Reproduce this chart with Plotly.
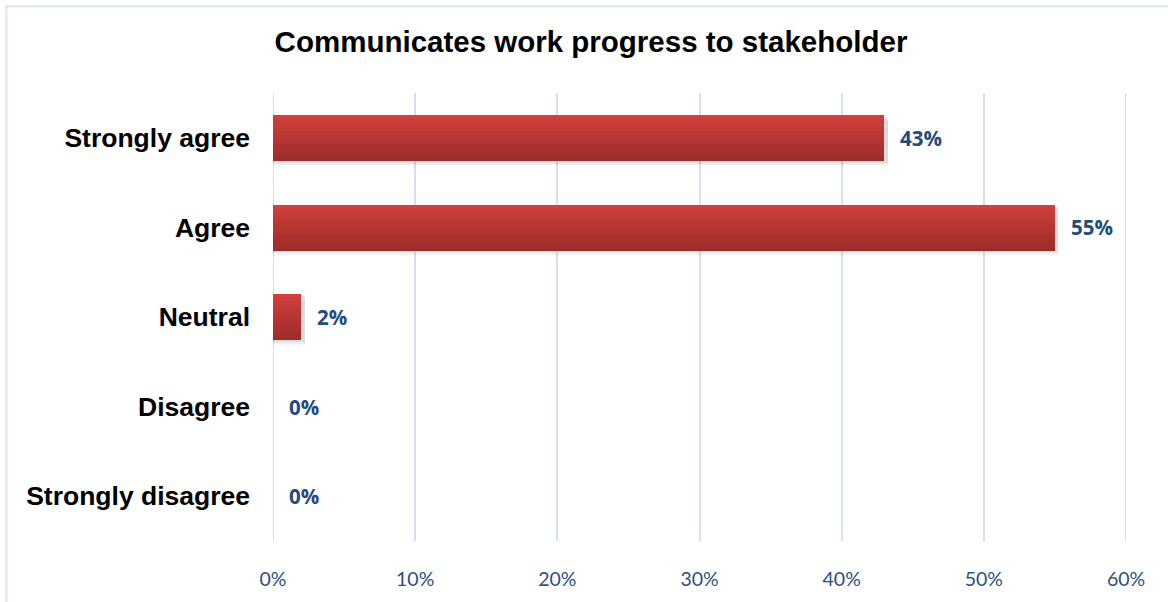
import plotly.graph_objects as go

# Survey responses
categories = ["Strongly agree", "Agree", "Neutral", "Disagree", "Strongly disagree"]
shares = [0.43, 0.55, 0.02, 0.00, 0.00]
value_labels = ["43%", "55%", "2%", "0%", "0%"]
tick_values = [0, 0.1, 0.2, 0.3, 0.4, 0.5, 0.6]
tick_labels = ["0%", "10%", "20%", "30%", "40%", "50%", "60%"]

BAR_WIDTH = 0.51
N_STRIPS = 14
TOP_RGB = (208, 64, 60)
BOTTOM_RGB = (158, 44, 41)
GRID_COLOR = "#d3e1f4"

fig = go.Figure()

# soft drop shadow under each bar
for alpha, off in [(0.10, 0.0), (0.06, 0.02), (0.03, 0.04)]:
    fig.add_trace(go.Bar(
        y=categories, x=[v + 0.0025 if v > 0 else 0 for v in shares], orientation="h",
        width=BAR_WIDTH, offset=-BAR_WIDTH / 2 + 0.025 + off,
        marker=dict(color=f"rgba(60,60,60,{alpha})", line=dict(width=0)),
        hoverinfo="skip", showlegend=False,
    ))

# vertical gradient built from thin stacked strips
dw = BAR_WIDTH / N_STRIPS
for i in range(N_STRIPS):
    t = i / (N_STRIPS - 1)
    r, g, b = (round(TOP_RGB[j] + (BOTTOM_RGB[j] - TOP_RGB[j]) * t) for j in range(3))
    fig.add_trace(go.Bar(
        y=categories, x=shares, orientation="h",
        width=dw * 1.08, offset=-BAR_WIDTH / 2 + i * dw,
        marker=dict(color=f"rgb({r},{g},{b})", line=dict(width=0)),
        hoverinfo="skip", showlegend=False,
    ))

# value labels to the right of each bar
for cat, v, lab in zip(categories, shares, value_labels):
    fig.add_annotation(
        x=v, y=cat, text=f"<b>{lab}</b>", showarrow=False,
        xanchor="left", yanchor="middle", xshift=14,
        font=dict(family="Open Sans, sans-serif", size=20.5, color="#264a7c"),
    )

# gridlines at both ends of the value axis
edge_lines = [
    dict(type="line", xref="x", yref="paper", x0=v, x1=v, y0=0, y1=1,
         line=dict(color=GRID_COLOR, width=2), layer="below")
    for v in (tick_values[0], tick_values[-1])
]

fig.update_layout(
    width=1168, height=602,
    margin=dict(l=273, r=42, t=93, b=57),
    paper_bgcolor="white", plot_bgcolor="white",
    barmode="overlay", bargap=0,
    title=dict(
        text="<b>Communicates work progress to stakeholder</b>",
        xref="container", yref="container", x=0.506, y=0.93,
        xanchor="center", yanchor="middle",
        font=dict(family="Liberation Sans, Arial, sans-serif", size=29.5, color="black"),
    ),
    xaxis=dict(
        range=[tick_values[0], tick_values[-1]], tickvals=tick_values, ticktext=tick_labels,
        showgrid=True, gridcolor=GRID_COLOR, gridwidth=2,
        zeroline=False, showline=False, ticks="",
        ticklabelstandoff=24,
        tickfont=dict(family="Lato, sans-serif", size=19.5, color="#2b5183"),
    ),
    yaxis=dict(
        categoryorder="array", categoryarray=categories, autorange="reversed",
        showgrid=False, zeroline=False, showline=False, ticks="",
        ticklabelstandoff=22,
        tickfont=dict(family="Liberation Sans, Arial, sans-serif", size=26.5,
                      color="black", weight="bold"),
    ),
    shapes=[dict(
        type="rect", xref="paper", yref="paper",
        x0=(6.5 - 273) / 853, x1=(1180 - 273) / 853,
        y0=(545 - 620) / 452, y1=1 + (93 - 5.5) / 452,
        line=dict(color="#d9e3f2", width=2), fillcolor="rgba(0,0,0,0)", layer="below",
    )] + edge_lines,
)

fig.write_html("out.html")
